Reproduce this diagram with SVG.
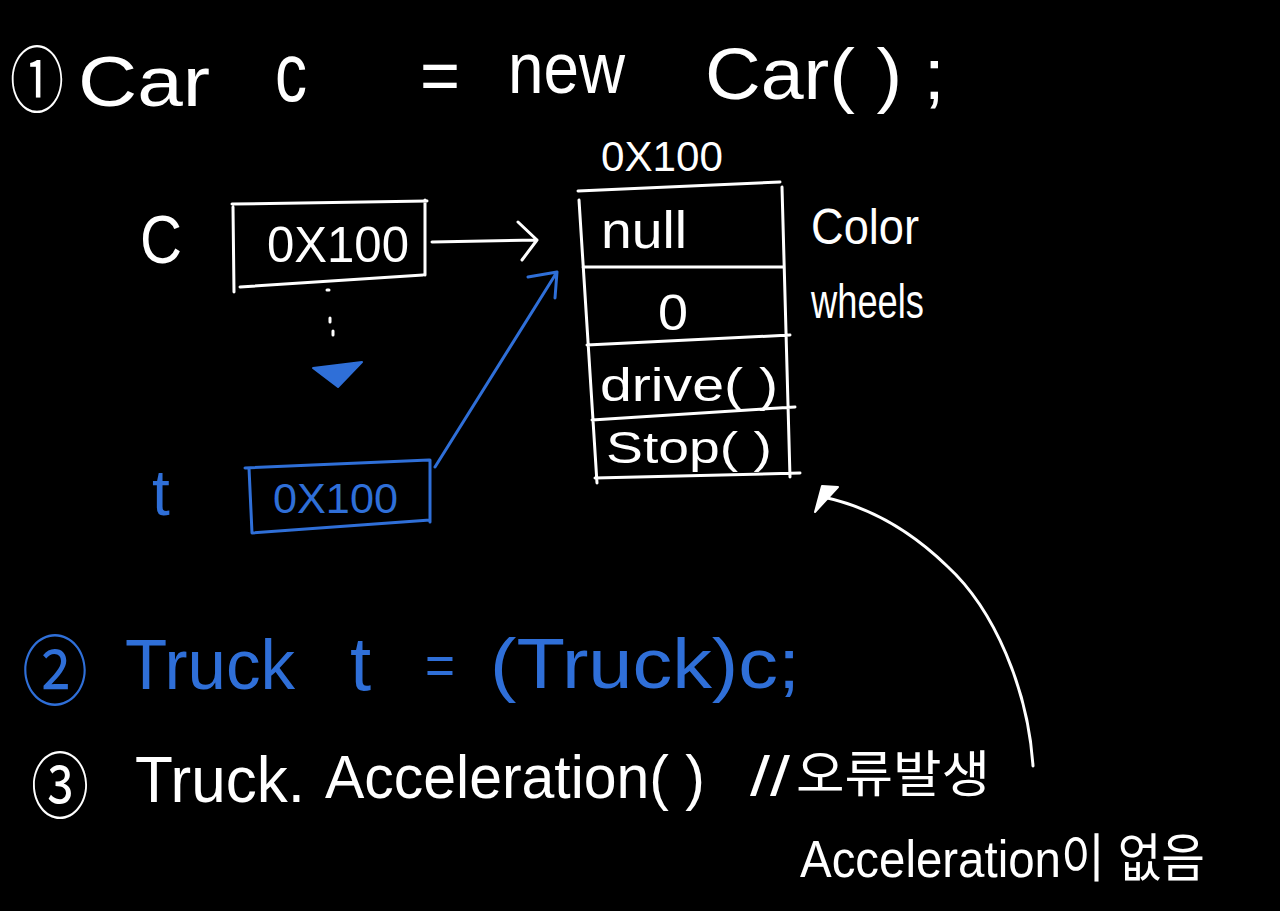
<svg xmlns="http://www.w3.org/2000/svg" width="1280" height="911" viewBox="0 0 1280 911">
<style>
.w{fill:#fff;font-family:"Liberation Sans","Noto Sans CJK KR",sans-serif}
.b{fill:#2f6fd8;font-family:"Liberation Sans","Noto Sans CJK KR",sans-serif}
.k{font-family:"Noto Sans CJK KR",sans-serif}
.sw{fill:none;stroke:#fff;stroke-width:3;stroke-linecap:round;stroke-linejoin:round}
.sb{fill:none;stroke:#2f6fd8;stroke-width:3;stroke-linecap:round;stroke-linejoin:round}
</style>
<rect width="1280" height="911" fill="#000"/>

<g id="stmt1">
<text class="w k" x="10" y="106" font-size="72" textLength="54" lengthAdjust="spacingAndGlyphs">①</text>
<text class="w" x="78" y="106" font-size="70" textLength="132" lengthAdjust="spacingAndGlyphs">Car</text>
<text class="w" x="275" y="101" font-size="84" textLength="32" lengthAdjust="spacingAndGlyphs">c</text>
<text class="w" x="420" y="100" font-size="72" textLength="40" lengthAdjust="spacingAndGlyphs">=</text>
<text class="w" x="508" y="93" font-size="72" textLength="117" lengthAdjust="spacingAndGlyphs">new</text>
<text class="w" x="705" y="99" font-size="72" textLength="240" lengthAdjust="spacingAndGlyphs">Car( ) ;</text>
</g>

<g id="var-c">
<text class="w" x="140" y="263" font-size="68" textLength="42" lengthAdjust="spacingAndGlyphs">C</text>
<path class="sw" d="M232,204 L427,201 M233,207 L234,292 M240,287 L423,275 M425,200 L425,275"/>
<text class="w" x="267" y="262" font-size="50" textLength="142" lengthAdjust="spacingAndGlyphs">0X100</text>
</g>

<g id="var-t">
<text class="b" x="152" y="515" font-size="64">t</text>
<path class="sb" d="M245,468 L429,460 M249,468 L252,533 M252,533 L430,520 M430,460 L430,522"/>
<text class="b" x="273" y="513" font-size="42" textLength="125" lengthAdjust="spacingAndGlyphs">0X100</text>
</g>

<g id="heap-object">
<text class="w" x="601" y="171" font-size="42" textLength="122" lengthAdjust="spacingAndGlyphs">0X100</text>
<path class="sw" d="M578,191 L780,182 M579,200 L597,483 M782,187 L790,477 M583,267 L783,267 M587,345 L790,335 M592,420 L795,407 M595,478 L800,473"/>
<text class="w" x="601" y="248" font-size="52" textLength="86" lengthAdjust="spacingAndGlyphs">null</text>
<text class="w" x="658" y="330" font-size="50" textLength="30" lengthAdjust="spacingAndGlyphs">0</text>
<text class="w" x="600" y="401" font-size="46" textLength="178" lengthAdjust="spacingAndGlyphs">drive( )</text>
<text class="w" x="606" y="463" font-size="44" textLength="166" lengthAdjust="spacingAndGlyphs">Stop( )</text>
</g>

<g id="field-labels">
<text class="w" x="811" y="244" font-size="50" textLength="108" lengthAdjust="spacingAndGlyphs">Color</text>
<text class="w" x="811" y="318" font-size="48" textLength="113" lengthAdjust="spacingAndGlyphs">wheels</text>
</g>

<g id="stmt2">
<text class="b k" x="22" y="699" font-size="76" textLength="66" lengthAdjust="spacingAndGlyphs">②</text>
<text class="b" x="125" y="689" font-size="70" textLength="170" lengthAdjust="spacingAndGlyphs">Truck</text>
<text class="b" x="350" y="690" font-size="76">t</text>
<text class="b" x="425" y="684" font-size="56" textLength="30" lengthAdjust="spacingAndGlyphs">=</text>
<text class="b" x="490" y="688" font-size="70" textLength="310" lengthAdjust="spacingAndGlyphs">(Truck)c;</text>
</g>

<g id="stmt3">
<text class="w k" x="31" y="812" font-size="72" textLength="58" lengthAdjust="spacingAndGlyphs">③</text>
<text class="w" x="135" y="802" font-size="64" textLength="170" lengthAdjust="spacingAndGlyphs">Truck.</text>
<text class="w" x="325" y="798" font-size="62" textLength="380" lengthAdjust="spacingAndGlyphs">Acceleration( )</text>
<text class="w" x="750" y="795" font-size="56" textLength="40" lengthAdjust="spacingAndGlyphs">//</text>
<text class="w k" x="796" y="792" font-size="50" textLength="194" lengthAdjust="spacingAndGlyphs">오류발생</text>
</g>

<g id="note">
<text class="w" x="800" y="877" font-size="52" textLength="405" lengthAdjust="spacingAndGlyphs">Acceleration이 없음</text>
</g>

<g id="connectors">
<path class="sw" d="M432,242 L537,240 M518,222 L537,240 L522,260"/>
<path class="sb" d="M435,467 L557,272 M528,277 L557,272 L555,298"/>
<path class="sw" d="M327,290 L329,290 M330,318 L330,322 M333,331 L333,335"/>
<polygon points="313,368 362,362 338,387" fill="#2f6fd8" stroke="#2f6fd8" stroke-width="2" stroke-linejoin="round"/>
<path class="sw" d="M1033,766 C1028,690 995,610 947,566 C915,535 875,508 823,497"/>
<polygon points="815,512 822,486 838,487" fill="#fff" stroke="#fff" stroke-width="2" stroke-linejoin="round"/>
</g>
</svg>
